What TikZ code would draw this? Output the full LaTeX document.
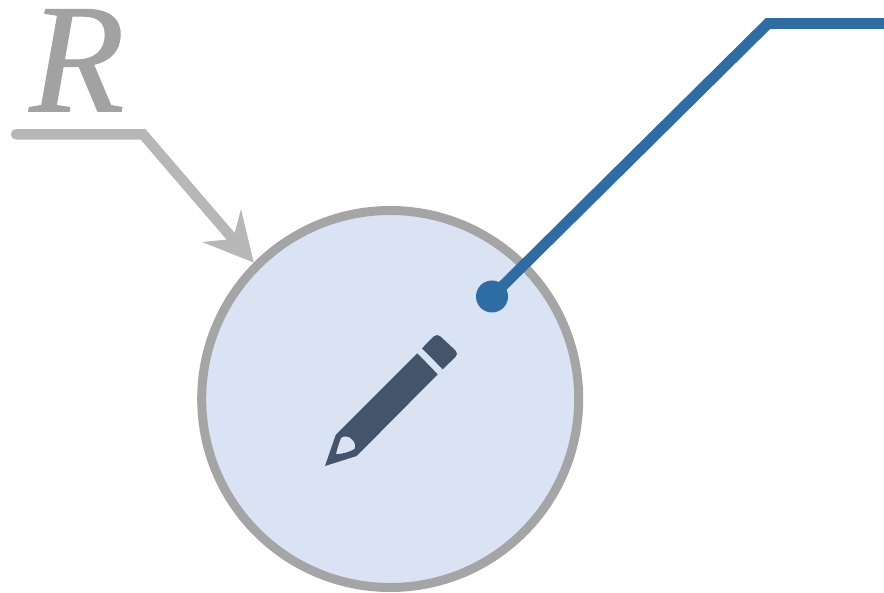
\documentclass[tikz,border=0pt]{standalone}
\usepackage{fontspec}
\setmainfont{Liberation Serif}
\definecolor{ringgrey}{HTML}{A5A5A5}
\definecolor{discfill}{HTML}{DAE3F3}
\definecolor{linkblue}{HTML}{2E6CA4}
\definecolor{pencilslate}{HTML}{44546A}
\definecolor{arrowgrey}{HTML}{B7B7B7}
\definecolor{lettergrey}{HTML}{A2A2A2}
\tikzset{
  disc/.style={circle,draw=ringgrey,fill=discfill,line width=9pt,minimum size=377pt,inner sep=0pt},
  linkdot/.style={circle,fill=linkblue,minimum size=32pt,inner sep=0pt},
  linkline/.style={draw=linkblue,line width=10.8pt,line join=miter},
  pointer/.style={draw=arrowgrey,line width=10.5pt,line cap=round,line join=miter},
  pointerhead/.style={fill=arrowgrey,draw=none},
  letter/.style={text=lettergrey,inner sep=0pt,font=\fontsize{156}{156}\selectfont\itshape\addfontfeature{FakeBold=0.6}},
  pencilshape/.style={fill=pencilslate,draw=none,even odd rule}
}
\begin{document}
\begin{tikzpicture}[x=1pt,y=-1pt]
\useasboundingbox (0,0) rectangle (884,593);
\node[disc] (c) at (390.2,399) {};
\node[letter,anchor=base] (r) at (77,111.5) {R};
\coordinate (rs) at (16,134.3);
\coordinate (rb) at (143,134.3);
\coordinate (hn) at (233,239);
\coordinate (hl) at (241,209);
\coordinate (hr) at (202,242);
\draw[pointer] (rs) -- (rb) -- (hn);
\fill[pointerhead] (c.135) -- (hl) -- (hn) -- (hr) -- cycle;
\node[linkdot] (d) at (492,296.5) {};
\coordinate (be) at (768,23.5);
\coordinate (bf) at (884,23.5);
\draw[linkline] (d.center) -- (be) -- (bf);
% pencil
\fill[pencilshape]
  (325,466) -- (335.7,435) -- (417.3,353.3) -- (437.7,374.3) -- (356.7,456) -- cycle
  (336,454.3) .. controls (337,449) and (339,443) .. (341,438)
  .. controls (344,435.5) and (349,436) .. (352,439.5)
  .. controls (355,442) and (356,446) .. (354.5,449)
  .. controls (350,452) and (342,454) .. (336,454.3) -- cycle;
\fill[pencilshape]
  (422,348.3) -- (433.5,336.5) .. controls (435.5,334.5) and (438.5,334.5) .. (440.5,336.5)
  -- (455.5,350.5) .. controls (457.5,352.5) and (457.5,355) .. (455.5,357)
  -- (442.7,369.3) -- cycle;
\end{tikzpicture}
\end{document}
